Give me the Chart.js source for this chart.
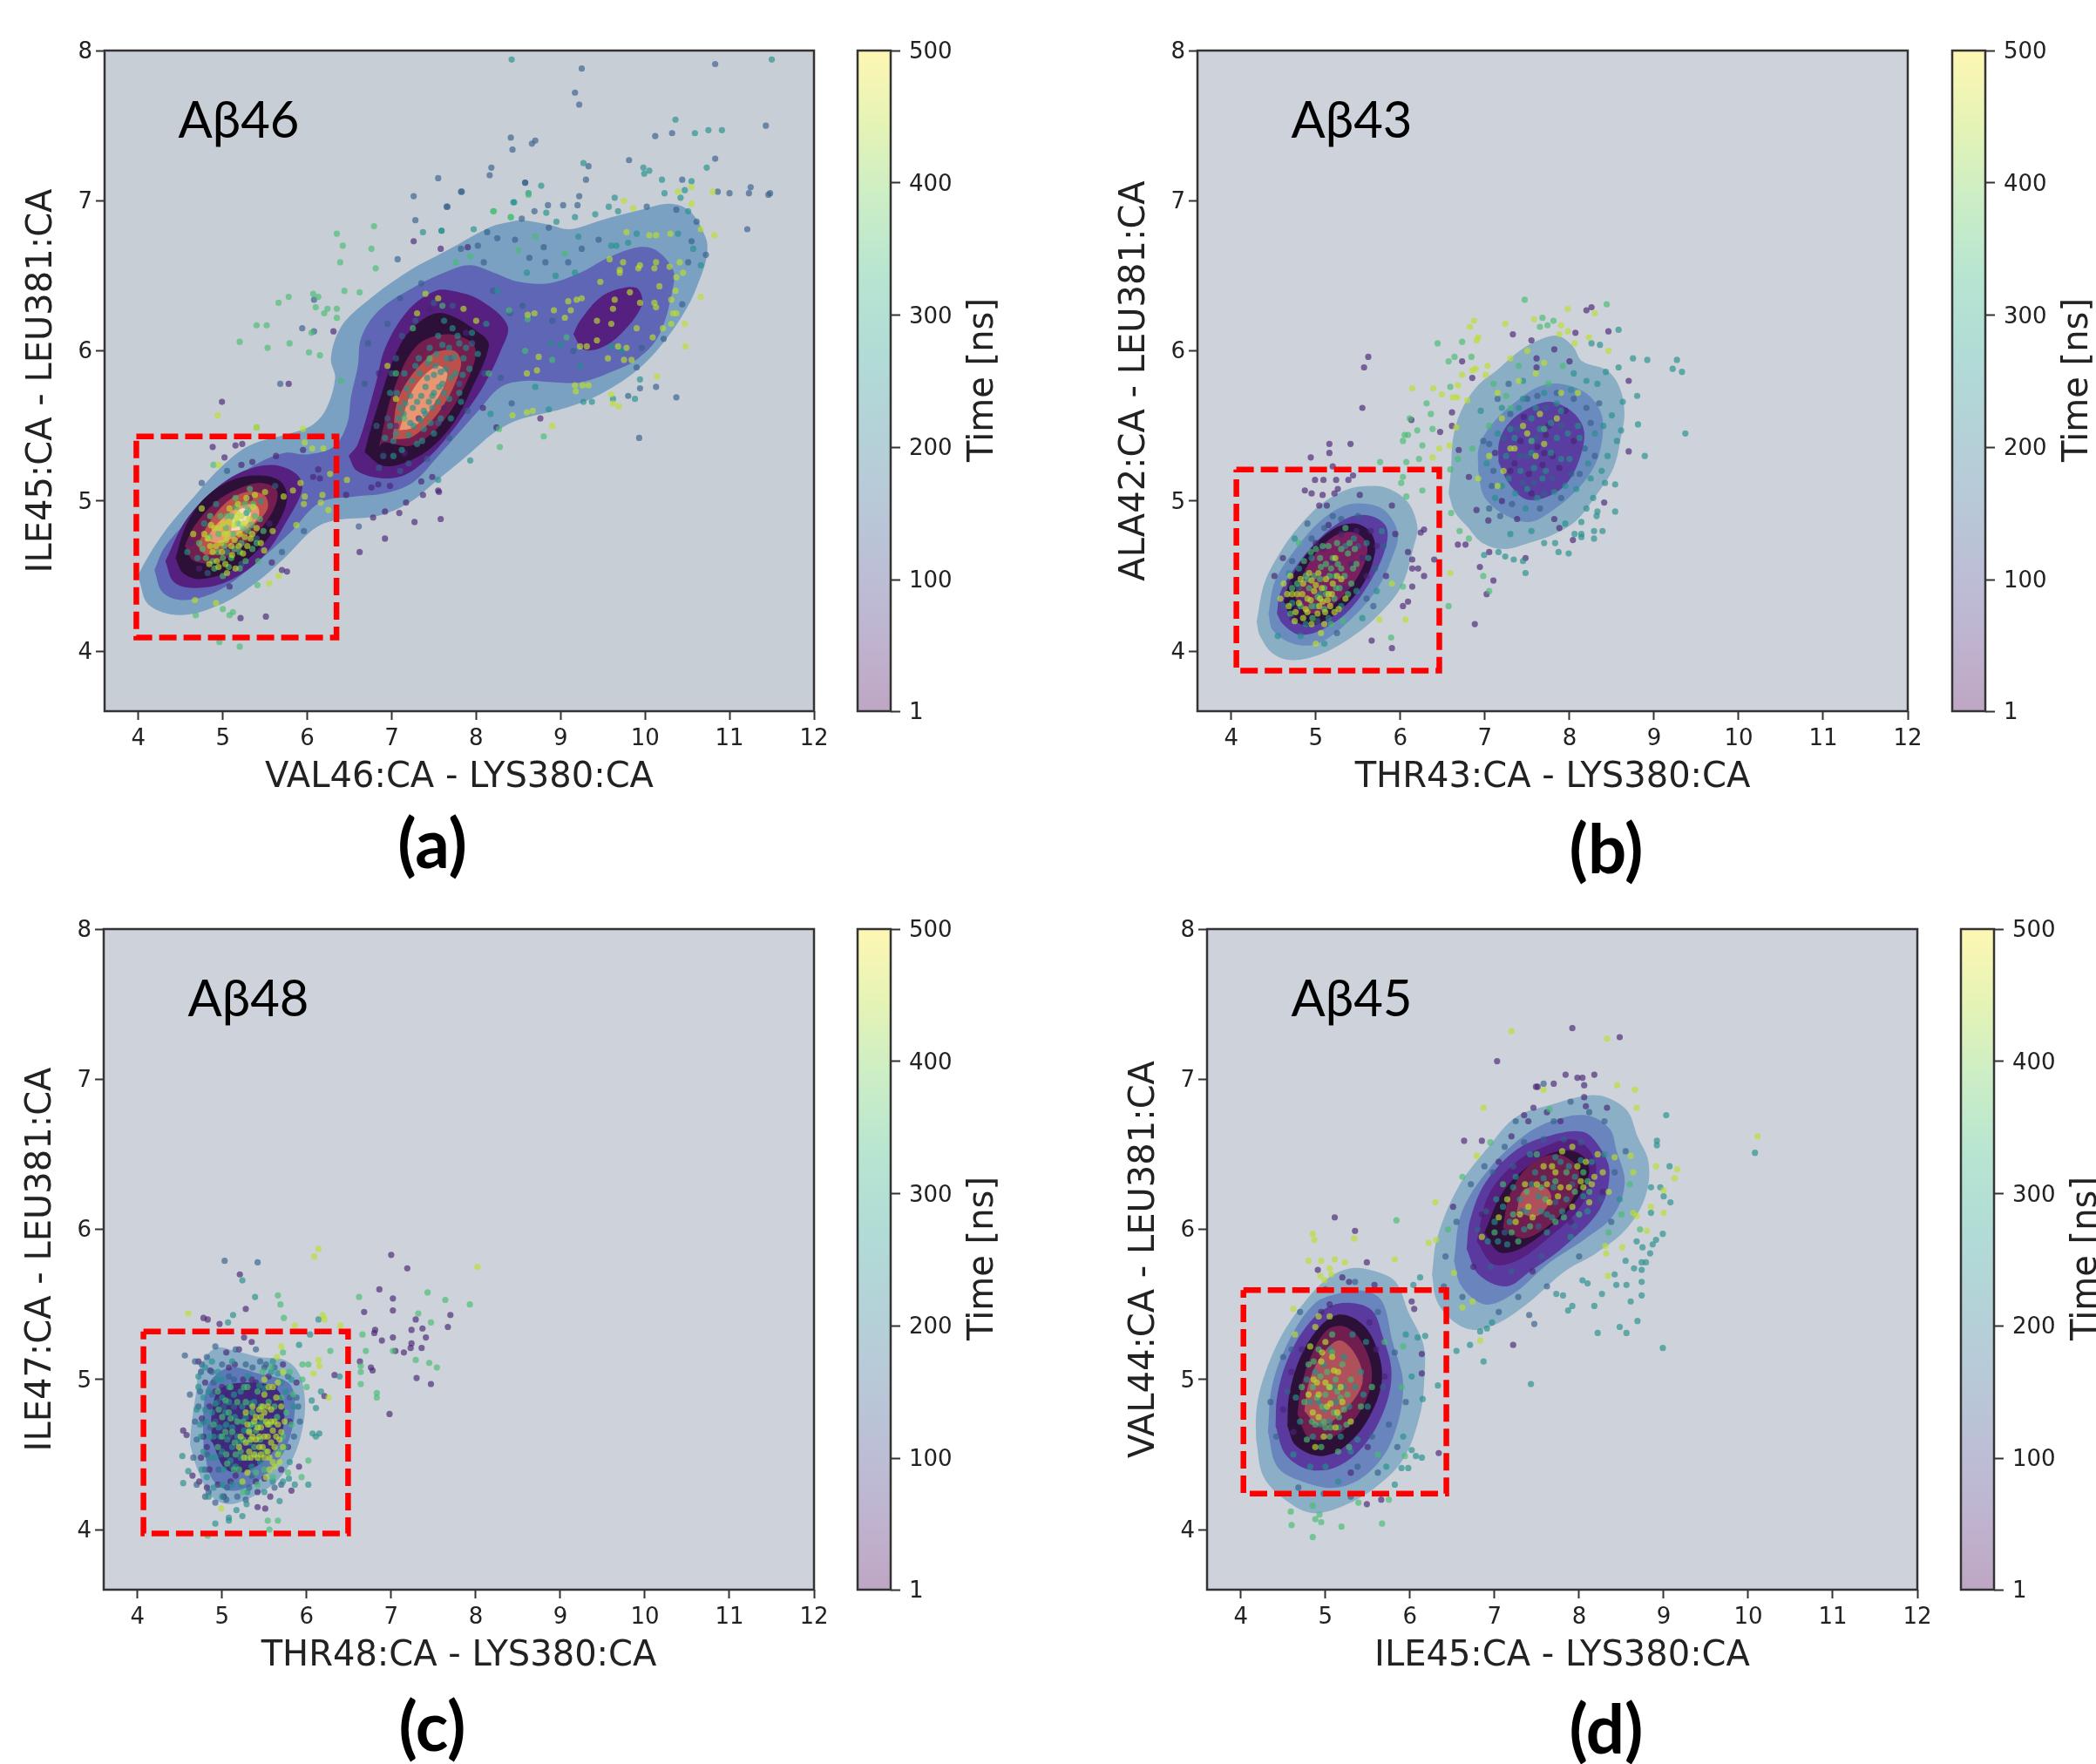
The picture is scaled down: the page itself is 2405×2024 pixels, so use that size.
<!DOCTYPE html>
<html>
<head>
<meta charset="utf-8">
<script src="https://cdn.jsdelivr.net/npm/chart.js@4"></script>
<style>
html, body { margin: 0; padding: 0; background: #fff; width: 2405px; height: 2024px; overflow: hidden; }
canvas { position: absolute; filter: blur(0.6px); }
.note { position: absolute; white-space: nowrap; color: #000; transform: translate(-50%, -50%); }
.tag { font: 58px Lato, sans-serif; }
.sub { font: bold 78px Lato, sans-serif; }
.cbtitle { font: 40px "DejaVu Sans", sans-serif; color: #222; transform: translate(-50%, -50%) rotate(-90deg); }
</style>
</head>
<body>
<script>
const xTicks = [4, 5, 6, 7, 8, 9, 10, 11, 12];
const yTicks = [4, 5, 6, 7, 8];
const cbarTicks = [1, 100, 200, 300, 400, 500];
const groupTimes = [50, 150, 250, 350, 450];

// viridis stops used for the time colouring
const viridis = [[68,1,84],[72,40,120],[62,74,137],[49,104,142],[38,130,142],[31,158,137],[53,183,121],[109,205,89],[180,222,44],[253,231,37]];

// ----- panel (a) -----
const a_box = [3.976, 6.346, 5.43, 4.09];
const a_fills = ['#7aa0c2', '#5e66b5', '#55207f', '#2d1038', '#741e50', '#bd504b', '#eb9673', '#f6dcc0'];
const a_contours = [
 [0, [[4.01,4.47],[4.12,4.31],[4.49,4.24],[4.97,4.31],[5.38,4.45],[5.73,4.62],[6.07,4.81],[6.31,4.87],[6.83,4.90],[7.21,4.99],[7.52,5.13],[7.93,5.32],[8.2,5.45],[8.45,5.53],[8.70,5.57],[9.06,5.62],[9.43,5.70],[9.88,5.86],[10.21,6.05],[10.50,6.29],[10.65,6.48],[10.73,6.63],[10.72,6.75],[10.53,6.93],[10.29,6.98],[9.96,6.94],[9.48,6.87],[9.11,6.81],[8.86,6.84],[8.54,6.87],[8.33,6.85],[8.15,6.82],[7.66,6.67],[7.17,6.52],[6.64,6.30],[6.39,6.15],[6.28,5.95],[6.33,5.82],[6.23,5.62],[6.07,5.51],[5.80,5.45],[5.32,5.37],[4.97,5.22],[4.63,5.01],[4.29,4.78],[4.01,4.52],[4.01,4.47]]],
 [1, [[4.19,4.54],[4.29,4.39],[4.56,4.34],[4.97,4.41],[5.42,4.60],[5.80,4.79],[6.15,4.99],[6.56,5.03],[6.90,5.05],[7.24,5.12],[7.55,5.30],[8.04,5.61],[8.29,5.76],[8.58,5.80],[8.94,5.79],[9.23,5.79],[9.60,5.86],[9.92,5.95],[10.17,6.11],[10.33,6.42],[10.33,6.54],[10.13,6.67],[9.92,6.69],[9.56,6.62],[9.23,6.52],[8.86,6.45],[8.50,6.46],[8.21,6.52],[7.93,6.57],[7.66,6.53],[7.25,6.42],[6.85,6.27],[6.64,6.09],[6.60,5.90],[6.52,5.70],[6.47,5.51],[6.31,5.36],[6.00,5.31],[5.73,5.32],[5.38,5.24],[4.97,5.08],[4.63,4.89],[4.32,4.70],[4.19,4.54]]],
 [2, [[4.32,4.60],[4.42,4.46],[4.66,4.42],[5.04,4.46],[5.46,4.62],[5.76,4.87],[5.94,5.08],[5.87,5.18],[5.59,5.24],[5.25,5.20],[4.91,5.08],[4.56,4.87],[4.32,4.60]]],
 [3, [[4.44,4.62],[4.53,4.52],[4.73,4.48],[5.11,4.54],[5.46,4.70],[5.69,4.89],[5.76,5.04],[5.66,5.14],[5.38,5.17],[5.07,5.13],[4.77,5.01],[4.56,4.83],[4.44,4.62]]],
 [4, [[4.55,4.70],[4.66,4.60],[4.97,4.60],[5.32,4.74],[5.59,4.93],[5.64,5.07],[5.46,5.12],[5.18,5.08],[4.91,4.99],[4.66,4.83],[4.55,4.70]]],
 [5, [[4.70,4.70],[4.81,4.64],[5.07,4.70],[5.35,4.83],[5.53,4.95],[5.49,5.04],[5.28,5.06],[5.04,4.99],[4.81,4.83],[4.70,4.70]]],
 [6, [[4.79,4.74],[4.97,4.72],[5.22,4.79],[5.42,4.89],[5.40,4.97],[5.22,4.97],[4.97,4.87],[4.79,4.74]]],
 [7, [[5.10,4.80],[5.25,4.82],[5.33,4.92],[5.22,4.95],[5.12,4.88],[5.10,4.80]]],
 [2, [[6.49,5.30],[6.59,5.20],[6.90,5.15],[7.18,5.18],[7.49,5.32],[7.72,5.47],[7.85,5.57],[8.08,5.76],[8.29,6.0],[8.37,6.17],[8.04,6.34],[7.72,6.40],[7.52,6.40],[7.21,6.28],[6.93,6.03],[6.81,5.78],[6.60,5.38],[6.49,5.30]]],
 [3, [[6.69,5.32],[6.87,5.24],[7.07,5.24],[7.41,5.33],[7.72,5.51],[7.94,5.74],[8.15,6.03],[8.06,6.11],[7.62,6.25],[7.37,6.21],[7.09,6.03],[6.85,5.66],[6.68,5.33],[6.69,5.32]]],
 [4, [[6.85,5.36],[6.90,5.39],[7.24,5.37],[7.58,5.51],[7.91,5.82],[7.98,6.03],[7.66,6.11],[7.29,6.03],[7.01,5.72],[6.85,5.36]]],
 [5, [[7.01,5.41],[7.25,5.43],[7.58,5.61],[7.82,5.90],[7.74,6.0],[7.46,5.97],[7.09,5.70],[7.01,5.41]]],
 [6, [[7.09,5.47],[7.25,5.49],[7.46,5.61],[7.66,5.84],[7.54,5.90],[7.25,5.74],[7.09,5.47]]],
 [2, [[9.15,6.11],[9.27,6.01],[9.48,6.02],[9.71,6.11],[9.96,6.30],[9.92,6.41],[9.75,6.42],[9.48,6.36],[9.23,6.20],[9.15,6.11]]]
];
const a_t50 = [[7.26,6.73],[7.58,6.68],[5.78,5.78],[4.99,5.66],[6.31,6.13],[7.90,6.69],[8.76,5.55],[8.24,5.49],[8.08,5.62],[7.58,4.88],[7.56,5.06],[4.88,5.36],[5.15,5.37],[5.23,5.38],[5.02,5.29],[5.22,5.24],[5.35,5.26],[5.63,5.30],[6.07,5.16],[6.15,5.15],[6.13,5.21],[5.95,5.34],[5.70,4.54],[5.76,4.53],[5.21,4.22],[5.51,4.23],[6.62,4.66],[6.92,4.75],[7.27,4.86],[6.78,4.89],[7.09,4.92],[6.92,4.93],[7.17,4.99],[7.55,5.07],[7.37,5.04],[7.48,5.16],[7.35,5.13],[6.76,5.09],[6.84,5.11],[6.98,5.10],[6.46,5.04],[5.58,4.59],[5.08,4.43],[4.62,4.72],[4.72,4.55],[5.32,5.02],[5.55,4.85],[6.72,5.48],[6.85,5.85],[7.05,5.50],[7.15,5.32],[7.32,5.55],[7.62,5.62],[7.88,6.12],[7.45,6.28]];
const a_t150 = [[8.43,7.34],[8.41,7.42],[8.66,7.38],[8.18,7.22],[8.16,7.17],[7.55,7.15],[7.82,7.06],[7.26,7.03],[7.65,6.96],[7.28,6.87],[7.07,6.61],[5.94,6.15],[6.08,6.34],[6.08,6.13],[5.68,5.78],[8.58,7.12],[9.25,7.88],[9.17,7.72],[9.22,7.64],[10.12,7.43],[10.32,7.45],[10.83,7.91],[11.43,7.50],[11.48,7.05],[11.23,7.05],[10.86,7.06],[9.33,7.23],[8.70,7.40],[7.83,7.06],[7.66,6.96],[8.58,7.12],[9.30,7.14],[9.81,7.27],[10.83,7.28],[10.44,7.14],[11.25,7.09],[11.46,7.04],[11.0,7.05],[11.21,6.81],[9.22,7.03],[8.85,6.97],[9.03,6.97],[9.20,6.97],[8.69,6.93],[8.54,6.88],[8.13,6.79],[8.25,6.75],[8.46,6.74],[8.86,6.82],[9.45,6.74],[9.25,6.68],[8.80,6.69],[8.63,6.62],[8.82,6.59],[9.09,6.59],[8.02,6.70],[8.09,6.59],[7.82,6.68],[10.02,6.96],[10.37,6.94],[10.61,6.86],[10.55,6.73],[10.72,6.64],[10.51,6.59],[10.44,6.31],[10.22,6.08],[9.96,6.02],[9.90,5.89],[10.37,5.69],[9.93,5.42],[9.80,5.70],[9.94,5.75],[10.13,5.76],[8.42,5.65],[8.29,5.82],[6.61,4.83],[5.96,4.80],[5.70,4.66],[7.35,6.45],[7.1,6.35],[6.95,6.18],[6.72,6.05],[6.68,5.78],[8.2,6.4],[8.4,6.25],[8.9,6.2],[9.15,6.0],[8.55,6.3],[4.75,5.12],[5.05,5.2],[5.62,5.1],[4.82,4.52],[5.22,4.58],[5.4,4.75],[6.95,5.55],[7.2,5.25],[7.55,5.52],[7.7,5.95],[7.8,5.78],[7.05,5.95],[6.9,5.3],[6.82,5.5],[7.0,5.85],[7.12,6.1],[7.28,6.2],[7.5,6.32],[7.72,6.3],[7.95,6.05],[8.1,5.85],[7.9,5.6],[7.68,5.42],[7.42,5.28],[7.1,5.2],[6.85,5.22]];
const a_t250 = [[8.42,7.94],[8.44,6.99],[7.37,6.79],[7.59,6.80],[11.50,7.94],[10.36,7.54],[10.59,7.45],[10.75,7.47],[10.91,7.47],[10.20,7.14],[9.27,7.25],[9.98,7.22],[10.05,7.20],[9.99,7.18],[10.73,7.22],[10.55,7.13],[10.47,7.07],[10.23,7.05],[10.42,7.02],[10.51,6.93],[9.64,7.02],[8.77,7.10],[8.62,7.05],[8.45,6.99],[8.83,6.92],[9.17,6.89],[9.41,6.91],[9.57,6.96],[9.68,6.93],[8.95,6.86],[7.59,6.80],[7.97,6.81],[9.21,6.76],[9.60,6.70],[9.66,6.70],[9.80,6.72],[9.90,6.78],[10.39,6.78],[10.57,6.68],[10.66,6.57],[9.17,6.52],[8.60,6.52],[8.94,6.50],[8.25,6.40],[9.0,6.04],[8.88,6.05],[8.70,5.76],[8.86,5.61],[9.27,5.66],[9.37,5.66],[9.62,5.68],[9.88,5.68],[9.94,5.81],[8.17,5.58],[7.93,5.27],[7.55,5.14],[9.23,5.90],[9.72,6.0],[9.60,6.03],[7.05,5.45],[7.1,5.62],[7.18,5.75],[7.22,5.52],[7.28,5.9],[7.3,5.38],[7.35,5.7],[7.4,5.58],[7.42,5.82],[7.45,6.02],[7.5,5.45],[7.5,5.72],[7.52,5.9],[7.55,6.1],[7.58,5.55],[7.6,5.78],[7.65,5.95],[7.68,5.68],[7.72,6.15],[7.75,5.85],[7.8,6.05],[7.85,5.95],[7.92,5.88],[7.95,6.12],[7.38,5.48],[7.48,5.62],[7.32,5.95],[7.15,5.85],[6.98,5.72],[6.92,5.42],[7.02,5.3],[7.25,5.62],[7.62,6.2],[7.7,5.55],[7.82,5.66],[8.02,5.98],[8.12,6.18],[4.78,4.85],[4.92,4.98],[5.05,4.66],[5.28,4.92],[5.45,5.0],[4.7,4.62],[4.58,4.66],[7.02,5.4],[7.08,5.55],[7.12,5.34],[7.16,5.65],[7.2,5.44],[7.24,5.8],[7.26,5.5],[7.3,5.66],[7.33,5.85],[7.36,5.4],[7.38,5.6],[7.4,5.76],[7.43,5.92],[7.46,5.52],[7.48,5.7],[7.5,5.84],[7.53,5.98],[7.55,5.66],[7.58,5.86],[7.6,6.04],[7.62,5.72],[7.64,5.88],[7.68,6.02],[7.7,5.82],[7.74,5.96],[7.78,6.1],[7.8,5.72],[7.84,5.84],[7.88,6.02],[6.98,5.5],[7.06,5.72],[7.14,5.58],[7.22,5.7],[7.34,5.54],[7.44,5.66],[7.56,5.76]];
const a_t350 = [[6.79,6.83],[6.35,6.78],[6.42,6.70],[6.76,6.68],[6.39,6.59],[6.81,6.55],[6.44,6.40],[6.62,6.39],[6.07,6.38],[6.13,6.36],[5.78,6.36],[5.66,6.32],[6.10,6.29],[6.24,6.28],[6.35,6.28],[6.20,6.25],[6.35,6.22],[5.52,6.17],[5.40,6.17],[6.05,6.12],[5.20,6.06],[5.79,6.05],[5.53,6.02],[6.02,5.99],[6.15,5.97],[6.40,5.80],[8.62,7.04],[8.21,6.93],[8.41,6.89],[8.20,6.93],[8.41,6.89],[8.70,6.76],[8.50,6.67],[9.05,6.65],[7.93,6.63],[7.76,6.59],[8.39,6.27],[8.61,6.21],[8.58,6.0],[9.07,6.09],[8.90,5.94],[8.80,5.43],[8.28,5.36],[8.27,5.48],[4.68,4.24],[4.96,4.06],[5.20,4.03],[5.0,4.28],[5.08,4.24],[5.12,4.26],[5.41,4.44],[5.40,5.49],[4.89,5.24],[4.72,4.72],[4.8,4.62],[4.9,4.55],[4.95,4.78],[5.02,4.7],[5.05,4.9],[5.1,4.62],[5.12,4.78],[5.18,4.85],[5.2,4.55],[5.22,4.72],[5.26,4.98],[5.3,4.8],[5.35,4.68],[5.38,4.9],[5.42,4.6],[4.85,4.9],[5.0,4.5],[5.15,5.02],[5.32,5.08],[7.15,5.55],[7.45,5.95],[7.6,6.3],[7.25,6.15],[8.15,5.85],[7.05,5.85],[4.76,4.68],[4.84,4.76],[4.88,4.6],[4.94,4.66],[4.97,4.9],[5.0,4.62],[5.04,4.82],[5.07,4.56],[5.1,4.9],[5.14,4.68],[5.16,4.96],[5.2,4.66],[5.24,4.82],[5.27,4.6],[5.3,4.94],[5.34,4.84],[5.36,4.98],[5.4,4.72],[5.44,4.88],[5.48,4.8]];
const a_t450 = [[4.94,5.57],[5.40,5.49],[10.39,7.06],[10.55,7.09],[10.80,7.06],[10.55,6.98],[9.75,7.0],[9.86,6.95],[10.82,6.77],[10.66,6.81],[9.78,6.79],[10.30,6.78],[10.05,6.77],[10.13,6.77],[10.66,6.36],[10.33,6.25],[10.47,6.18],[10.14,5.83],[9.60,5.71],[9.62,5.65],[9.69,5.63],[8.90,5.50],[10.48,6.03],[9.58,6.61],[9.74,6.59],[9.94,6.57],[10.11,6.55],[10.13,6.59],[9.92,6.55],[9.70,6.54],[9.70,6.52],[10.29,6.56],[10.41,6.59],[10.45,6.52],[10.37,6.49],[10.17,6.43],[10.11,6.32],[10.13,6.29],[10.36,6.40],[10.31,6.34],[10.37,6.25],[10.09,6.09],[10.21,6.15],[10.31,6.18],[9.47,6.46],[9.82,6.39],[9.62,6.28],[9.64,6.34],[9.94,6.32],[9.60,6.18],[9.43,6.20],[9.90,6.15],[9.78,6.02],[9.68,6.03],[9.43,6.07],[9.31,6.03],[9.23,6.03],[9.25,6.35],[9.19,6.34],[9.09,6.33],[8.92,6.27],[9.12,6.27],[9.05,6.22],[8.69,6.25],[8.61,6.24],[9.17,5.77],[9.26,5.77],[9.33,5.77],[9.18,5.73],[8.74,5.96],[8.72,5.87],[8.60,5.85],[8.60,5.59],[8.67,5.60],[8.43,5.57],[9.84,5.94],[9.75,5.94],[9.56,5.95],[4.92,4.32],[4.67,4.34],[5.55,4.45],[5.66,4.50],[5.95,5.48],[5.97,5.39],[6.06,5.35],[6.19,5.35],[4.95,5.24],[5.97,5.03],[6.18,5.04],[6.16,4.99],[6.25,4.94],[6.27,5.18],[6.47,5.14],[5.92,5.12],[5.83,5.07],[5.72,5.03],[5.96,4.98],[5.87,4.84],[5.59,4.80],[5.49,4.67],[4.65,4.78],[4.75,4.95],[4.82,4.75],[4.88,4.66],[4.9,4.82],[4.93,4.6],[4.98,4.72],[5.0,4.85],[5.03,4.58],[5.06,4.78],[5.08,4.95],[5.1,4.7],[5.13,4.84],[5.15,4.55],[5.17,4.92],[5.2,4.78],[5.24,4.65],[5.25,4.85],[5.28,5.02],[5.33,4.75],[5.36,4.96],[5.4,4.82],[5.45,4.72],[4.85,4.7],[5.02,4.78],[7.05,5.68],[7.3,6.25],[7.55,6.35],[7.85,6.28],[8.0,6.2],[7.4,6.38],[6.95,5.9],[4.78,4.78],[4.86,4.84],[4.92,4.7],[4.96,4.82],[4.99,4.66],[5.04,4.74],[5.07,4.86],[5.11,4.64],[5.14,4.74],[5.16,4.88],[5.19,4.7],[5.22,4.9],[5.26,4.76],[5.29,4.7],[5.31,4.88],[5.35,4.78],[4.95,4.56],[5.05,4.52],[4.84,4.58],[5.18,4.98],[5.38,5.04],[5.5,5.06]];

// ----- panel (b) -----
const b_box = [4.06, 6.46, 5.21, 3.87];
const b_fills = ['#8aaec4', '#6a8bbe', '#5a3da0', '#2d1040', '#7a2060', '#b05060', '#d08080', '#eee'];
const b_contours = [
 [0, [[4.30,4.195],[4.34,4.10],[4.50,3.98],[4.73,3.94],[5.06,3.98],[5.39,4.08],[5.72,4.23],[6.01,4.43],[6.16,4.70],[6.20,4.83],[6.09,4.99],[5.87,5.08],[5.65,5.10],[5.39,5.08],[5.09,4.99],[4.80,4.83],[4.58,4.66],[4.39,4.45],[4.30,4.195]]],
 [1, [[4.44,4.25],[4.49,4.14],[4.73,4.05],[5.02,4.05],[5.39,4.20],[5.72,4.41],[5.90,4.62],[5.97,4.78],[5.83,4.93],[5.61,4.98],[5.35,4.97],[5.06,4.87],[4.76,4.68],[4.52,4.47],[4.44,4.25]]],
 [2, [[4.54,4.25],[4.61,4.18],[4.80,4.11],[5.06,4.14],[5.39,4.27],[5.68,4.50],[5.83,4.70],[5.83,4.83],[5.65,4.90],[5.39,4.89],[5.06,4.76],[4.76,4.56],[4.58,4.39],[4.54,4.25]]],
 [3, [[4.62,4.33],[4.73,4.21],[4.95,4.17],[5.24,4.25],[5.54,4.43],[5.70,4.66],[5.65,4.79],[5.46,4.85],[5.20,4.81],[4.91,4.66],[4.71,4.49],[4.62,4.33]]],
 [4, [[4.76,4.35],[4.91,4.25],[5.20,4.31],[5.50,4.50],[5.61,4.70],[5.46,4.79],[5.20,4.76],[4.91,4.58],[4.76,4.35]]],
 [0, [[6.57,5.05],[6.64,4.93],[6.79,4.83],[6.97,4.72],[7.23,4.68],[7.52,4.72],[7.82,4.78],[8.08,4.87],[8.33,5.05],[8.52,5.22],[8.61,5.43],[8.65,5.59],[8.59,5.76],[8.44,5.87],[8.15,5.93],[8.04,6.03],[7.86,6.10],[7.63,6.07],[7.41,6.00],[7.16,5.88],[6.90,5.76],[6.71,5.59],[6.62,5.41],[6.60,5.22],[6.57,5.05]]],
 [1, [[6.92,5.20],[6.99,5.03],[7.23,4.91],[7.52,4.86],[7.78,4.93],[8.08,5.07],[8.30,5.24],[8.39,5.43],[8.37,5.59],[8.19,5.72],[7.89,5.78],[7.63,5.76],[7.34,5.65],[7.08,5.51],[6.93,5.36],[6.92,5.20]]],
 [2, [[7.16,5.26],[7.28,5.12],[7.49,5.01],[7.74,5.03],[7.97,5.12],[8.13,5.30],[8.17,5.47],[8.04,5.59],[7.78,5.66],[7.56,5.63],[7.30,5.53],[7.17,5.40],[7.16,5.26]]],
 [2, [[7.49,5.28],[7.60,5.21],[7.74,5.26],[7.86,5.38],[7.74,5.44],[7.60,5.37],[7.49,5.28]]]
];
const b_t50 = [[5.62,5.96],[5.57,5.89],[5.55,5.62],[5.16,5.38],[5.41,5.38],[5.16,5.32],[4.94,5.29],[5.20,5.23],[5.44,5.17],[4.99,5.14],[5.09,5.14],[5.24,5.14],[5.385,5.14],[5.26,5.08],[4.87,5.07],[4.95,5.05],[5.08,5.04],[5.52,5.04],[5.22,5.05],[5.04,4.97],[5.13,4.97],[5.90,4.97],[6.24,4.79],[6.28,4.81],[5.94,4.78],[6.09,4.66],[6.14,4.61],[6.40,4.61],[6.14,4.55],[6.21,4.55],[6.28,4.50],[5.83,4.50],[6.14,4.43],[6.09,4.33],[6.03,4.30],[5.66,4.07],[5.90,4.02],[4.51,4.50],[4.61,4.62],[6.88,4.18],[7.02,4.38],[7.10,4.47],[6.94,4.56],[7.48,4.62],[7.05,4.66],[6.68,4.71],[6.77,4.71],[8.04,4.74],[8.41,4.99],[8.70,5.33],[8.70,5.80],[8.46,6.13],[8.07,6.12],[8.20,6.27],[8.26,6.29],[7.33,6.11],[7.55,6.07],[6.73,5.93],[6.85,5.82],[7.61,5.95],[7.61,5.89],[7.82,6.01],[8.0,5.93],[6.13,5.54],[6.47,5.46],[6.61,5.59],[6.61,5.50],[6.69,5.34],[6.81,5.16],[6.90,4.94],[7.04,4.87],[7.82,4.88],[7.88,4.82],[7.38,4.88],[7.35,5.25],[7.55,5.05],[7.7,5.32],[7.75,5.5],[8.05,5.4],[7.2,5.0],[7.95,5.6],[4.72,4.22],[5.0,4.72],[5.35,4.42],[5.55,4.62],[4.85,4.35],[5.2,4.6],[5.65,4.8],[4.68,4.45],[7.42,5.4],[7.52,5.18],[7.62,5.36],[7.68,5.24],[7.72,5.44],[7.8,5.3],[7.88,5.22],[7.46,5.56],[7.3,5.2],[7.12,5.32],[4.78,4.28],[4.9,4.52],[5.08,4.68],[5.42,4.58],[5.6,4.5],[5.72,4.7],[5.48,4.8],[5.3,4.78],[4.66,4.38],[5.15,4.84]];
const b_t150 = [[7.38,5.48],[7.45,5.12],[7.6,5.42],[7.62,5.7],[7.8,5.15],[7.9,5.5],[8.12,5.18],[8.2,5.62],[7.28,5.78],[7.1,5.2],[7.05,4.95],[7.65,4.95],[8.3,5.3],[8.35,5.65],[7.5,5.3],[7.72,5.62],[7.15,5.68],[6.98,5.4],[4.72,4.6],[4.9,4.85],[5.1,4.82],[5.3,4.88],[5.5,4.9],[5.02,4.2],[5.25,4.12],[5.68,4.3],[4.62,4.3],[5.7,4.55],[5.8,4.7],[5.6,4.35],[7.08,5.1],[7.18,4.9],[7.32,4.98],[7.42,5.3],[7.58,5.12],[7.7,5.05],[7.9,5.02],[8.02,5.18],[8.18,5.35],[8.25,5.52],[8.05,5.68],[7.85,5.72],[7.5,5.68],[7.3,5.58],[7.22,5.42],[7.05,5.38],[4.8,4.42],[4.95,4.75],[5.2,4.9],[5.5,4.7]];
const b_t250 = [[9.27,5.94],[9.22,5.88],[9.33,5.86],[8.92,5.94],[8.75,5.95],[8.58,5.89],[8.58,6.14],[8.26,6.05],[8.36,6.04],[9.37,5.45],[8.89,5.30],[8.81,5.51],[8.80,5.70],[8.61,5.47],[8.56,5.40],[8.54,5.11],[8.54,4.93],[8.39,4.80],[8.29,4.80],[8.29,4.75],[8.14,4.78],[8.14,4.76],[8.06,4.78],[7.99,4.65],[7.87,4.66],[7.83,4.72],[7.48,4.52],[7.45,4.60],[7.34,4.61],[7.24,4.63],[7.16,4.66],[6.99,4.64],[8.33,4.93],[8.32,4.90],[8.14,4.86],[8.63,5.66],[8.50,5.57],[8.33,5.78],[8.43,5.86],[7.3,4.78],[7.55,4.8],[7.7,4.72],[7.95,4.85],[8.2,4.95],[8.42,5.12],[8.25,5.15],[8.3,5.45],[8.45,5.3],[8.2,5.8],[8.05,5.85],[7.85,5.65],[7.55,5.55],[7.45,5.68],[7.35,5.42],[7.25,5.3],[7.15,5.45],[7.68,5.15],[7.78,5.32],[7.58,5.22],[7.85,5.42],[8.0,5.28],[8.1,5.5],[7.95,5.1],[7.48,4.95],[7.2,5.1],[6.95,5.6],[4.68,4.52],[4.75,4.75],[4.82,4.1],[5.1,4.05],[5.3,4.3],[5.45,4.75],[5.6,4.72],[5.0,4.3],[4.55,4.1],[5.15,4.22],[4.95,4.62],[5.55,4.22],[7.02,5.25],[7.12,5.02],[7.28,5.15],[7.36,5.05],[7.42,5.2],[7.5,5.08],[7.55,5.32],[7.62,5.02],[7.65,5.48],[7.72,5.2],[7.78,5.52],[7.82,5.06],[7.9,5.28],[7.98,5.45],[8.08,5.08],[8.12,5.42],[8.22,5.25],[8.28,5.02],[8.38,5.2],[8.4,5.5],[7.3,5.48],[7.4,5.62],[7.6,5.62],[7.9,5.6],[8.02,5.74],[7.7,5.72],[7.45,5.8],[7.2,5.62],[4.72,4.32],[4.8,4.55],[4.88,4.18],[5.05,4.38],[5.22,4.5],[5.35,4.7],[5.48,4.4],[5.62,4.62],[5.72,4.4],[5.78,4.8]];
const b_t350 = [[7.47,6.34],[8.44,6.31],[7.68,6.22],[7.81,6.20],[7.65,6.16],[7.74,6.17],[6.44,6.05],[6.73,6.06],[6.57,5.93],[6.64,5.96],[6.84,5.96],[6.59,5.76],[6.31,5.65],[6.36,5.58],[6.11,5.55],[6.20,5.47],[6.09,5.44],[6.05,5.44],[6.03,5.40],[6.38,5.48],[6.26,5.37],[6.22,5.28],[6.07,5.26],[5.76,5.26],[6.68,5.28],[6.59,5.21],[6.03,5.16],[6.01,5.12],[6.26,5.07],[6.07,5.03],[6.60,4.92],[6.70,4.80],[6.81,4.75],[6.98,4.50],[7.05,4.40],[6.57,4.30],[5.89,4.09],[6.03,4.43],[7.05,5.5],[7.25,5.7],[7.4,5.9],[7.1,5.78],[6.85,5.35],[7.55,5.4],[7.75,5.78],[7.92,5.9],[7.7,5.48],[7.3,5.62],[4.8,4.72],[4.88,4.5],[4.95,4.3],[5.05,4.62],[5.1,4.42],[5.15,4.7],[5.18,4.55],[5.22,4.35],[5.25,4.72],[5.3,4.55],[5.32,4.2],[5.38,4.65],[5.42,4.45],[5.48,4.58],[5.05,4.48],[4.92,4.42],[5.12,4.58],[4.78,4.45],[5.28,4.42],[5.35,4.82],[5.0,4.68],[4.82,4.3],[4.86,4.6],[4.9,4.48],[4.94,4.66],[4.98,4.5],[5.02,4.36],[5.06,4.56],[5.08,4.7],[5.12,4.38],[5.16,4.5],[5.2,4.62],[5.24,4.42],[5.26,4.58],[5.3,4.68],[5.34,4.5],[5.38,4.38],[5.4,4.72],[5.44,4.55],[5.46,4.68],[5.1,4.28],[5.18,4.18],[4.96,4.22],[4.72,4.42],[4.7,4.25]];
const b_t450 = [[7.98,6.28],[8.30,6.25],[7.58,6.21],[7.90,6.17],[6.87,6.20],[6.82,6.16],[7.24,6.18],[7.98,6.13],[7.88,6.11],[8.23,6.09],[6.92,6.09],[6.90,6.07],[8.06,6.05],[8.46,6.0],[7.03,5.90],[6.89,5.88],[6.85,5.87],[6.73,5.84],[7.01,5.84],[6.68,5.77],[6.39,5.75],[6.14,5.75],[6.49,5.71],[6.67,5.69],[6.62,5.69],[6.79,5.67],[6.66,5.49],[6.46,5.35],[6.58,5.37],[6.38,5.29],[6.59,4.52],[6.06,4.21],[5.75,4.21],[5.90,4.45],[7.15,5.72],[7.4,5.8],[7.6,5.85],[7.3,5.95],[7.5,6.0],[7.7,5.92],[7.2,5.55],[7.45,5.5],[7.65,5.58],[7.05,5.3],[7.6,5.3],[7.9,5.72],[8.1,5.72],[7.15,5.1],[6.92,5.15],[4.58,4.35],[4.68,4.3],[4.72,4.38],[4.75,4.2],[4.8,4.32],[4.85,4.22],[4.9,4.35],[4.92,4.52],[4.95,4.18],[4.98,4.4],[5.02,4.25],[5.03,4.52],[5.08,4.33],[5.1,4.18],[5.12,4.48],[5.17,4.3],[5.2,4.45],[5.23,4.62],[5.27,4.28],[5.3,4.48],[5.35,4.35],[4.62,4.45],[4.7,4.5],[4.85,4.45],[5.05,4.35],[5.15,4.38],[4.88,4.28],[4.95,4.47],[5.0,4.05],[5.06,4.12],[4.76,4.26],[4.84,4.38],[4.9,4.26],[4.94,4.34],[5.0,4.44],[5.04,4.3],[5.07,4.42],[5.11,4.26],[5.14,4.34],[5.19,4.38],[5.22,4.26],[5.25,4.5],[4.82,4.48],[4.78,4.38],[4.66,4.38],[7.35,5.35],[7.5,5.45],[7.7,5.38],[7.85,5.55],[7.3,5.35],[7.22,5.2]];

// ----- panel (c) -----
const c_box = [4.07, 6.49, 5.32, 3.975];
const c_fills = ['#8aaec8', '#5f78b8', '#3f2a80', '#2d1048', '#6a1f60', '#a04060', '#c06060', '#eee'];
const c_contours = [
 [0, [[4.62,4.57],[4.71,4.40],[4.88,4.22],[5.09,4.17],[5.36,4.22],[5.64,4.32],[5.84,4.48],[5.95,4.67],[5.98,4.86],[5.91,5.04],[5.74,5.13],[5.43,5.15],[5.16,5.19],[4.92,5.21],[4.74,5.08],[4.69,4.90],[4.64,4.71],[4.62,4.57]]],
 [1, [[4.78,4.55],[4.88,4.34],[5.09,4.26],[5.36,4.30],[5.64,4.44],[5.81,4.63],[5.86,4.86],[5.78,4.98],[5.43,5.04],[5.09,5.08],[4.85,4.98],[4.78,4.79],[4.78,4.55]]],
 [2, [[4.88,4.59],[5.05,4.40],[5.33,4.40],[5.64,4.55],[5.74,4.79],[5.64,4.94],[5.33,4.98],[4.98,4.94],[4.88,4.79],[4.88,4.59]]]
];
const c_t50 = [[7.0,5.83],[7.19,5.74],[6.86,5.60],[7.02,5.54],[6.68,5.45],[7.02,5.46],[7.70,5.43],[7.29,5.40],[7.67,5.35],[7.37,5.34],[7.24,5.33],[6.81,5.33],[6.80,5.31],[6.89,5.26],[7.02,5.28],[7.41,5.28],[7.24,5.24],[7.23,5.21],[7.36,5.21],[7.05,5.19],[7.15,5.18],[6.63,5.12],[6.76,5.08],[6.78,5.06],[7.30,5.01],[7.47,4.97],[6.98,4.77],[6.33,5.03],[6.21,4.89],[5.21,5.70],[5.28,5.47],[4.78,5.41],[4.83,5.40],[4.97,5.37],[5.91,4.42],[5.82,4.26],[5.42,4.15],[5.51,4.14],[5.57,4.22],[4.65,4.36],[4.73,4.32],[4.54,4.66],[4.58,4.63],[5.26,5.28],[5.35,5.25],[5.15,5.1],[5.05,5.18],[5.2,5.2],[4.72,5.12],[4.8,4.98],[4.85,4.82],[4.9,4.6],[5.0,4.95],[5.1,4.85],[5.18,4.95],[5.25,5.0],[4.78,4.62],[4.75,4.48],[4.85,4.4],[4.95,4.3],[5.1,4.32],[5.25,4.4],[5.4,4.32],[5.3,4.9],[5.35,5.0],[5.55,5.02],[5.8,4.72],[5.78,4.55],[5.88,4.98],[5.72,5.1],[4.76,4.74],[4.82,4.55],[4.86,5.06],[4.92,4.92],[4.96,4.74],[5.02,4.58],[5.06,4.9],[5.12,4.72],[5.16,4.36],[5.22,4.82],[5.32,4.92],[5.4,4.98],[5.45,4.88],[5.62,4.95],[5.7,4.4],[5.5,4.34],[5.42,4.25],[4.82,4.28],[5.02,4.22],[5.08,5.08]];
const c_t150 = [[5.03,5.79],[5.42,5.78],[4.56,5.16],[4.68,5.12],[4.62,4.9],[4.75,5.05],[4.82,5.15],[4.92,5.22],[5.0,5.1],[5.08,5.02],[5.16,5.2],[4.68,4.72],[4.72,4.82],[4.78,4.72],[4.82,4.5],[4.88,4.9],[4.92,4.72],[4.98,4.5],[5.02,4.82],[5.08,4.62],[5.12,4.42],[5.2,4.72],[4.7,4.3],[4.8,4.22],[4.92,4.18],[5.05,4.2],[5.18,4.22],[5.28,4.2],[5.4,5.2],[5.45,5.12],[5.62,5.08],[5.88,4.88],[5.92,4.72],[5.85,4.62],[5.7,4.3],[4.88,5.05],[4.95,4.85],[5.32,4.28],[4.74,4.92],[4.7,4.6],[4.8,4.4],[4.86,4.68],[4.9,4.98],[4.96,4.4],[5.02,4.68],[5.06,4.28],[5.14,4.82],[5.14,5.0],[5.28,5.1],[5.36,5.08],[5.52,5.1],[5.78,5.02],[5.8,4.88],[5.9,4.82],[5.62,4.28],[4.66,4.48],[4.76,5.1],[4.84,4.25],[5.35,4.36],[5.5,5.08]];
const c_t250 = [[5.39,5.55],[5.24,5.66],[5.13,5.43],[5.07,5.38],[6.14,5.40],[6.04,5.30],[5.91,5.23],[6.39,5.02],[6.17,4.92],[6.06,4.86],[6.11,4.81],[6.07,4.64],[6.11,4.62],[6.15,4.64],[4.53,4.49],[4.60,4.39],[4.54,4.31],[5.79,4.34],[5.86,4.30],[6.02,4.30],[5.68,4.19],[5.24,4.09],[5.08,4.08],[5.08,4.06],[4.92,4.04],[5.17,4.13],[5.29,4.17],[4.72,5.02],[4.8,5.08],[4.78,4.88],[4.88,5.12],[4.95,5.05],[5.0,4.88],[5.05,4.7],[4.75,4.62],[4.85,4.62],[4.92,4.48],[4.98,4.62],[5.02,4.4],[5.08,4.85],[5.12,4.55],[5.15,4.75],[5.18,4.62],[5.22,4.92],[5.22,4.48],[5.28,4.75],[5.32,4.58],[5.35,4.42],[5.38,4.85],[5.42,4.7],[4.82,4.35],[4.9,4.28],[5.0,4.3],[5.12,4.3],[5.22,4.3],[5.3,4.25],[4.88,4.78],[4.8,4.8],[5.0,5.0],[5.12,5.12],[4.72,4.95],[5.45,4.45],[5.5,4.25],[5.85,4.82],[5.82,5.0],[5.7,4.98],[5.8,4.45],[5.6,5.12],[5.75,4.92],[4.7,4.8],[4.74,4.7],[4.78,4.52],[4.82,4.72],[4.84,4.92],[4.86,4.48],[4.9,4.62],[4.92,4.84],[4.94,5.0],[4.96,4.68],[5.0,4.52],[5.04,4.78],[5.06,4.6],[5.08,4.95],[5.1,4.46],[5.12,4.68],[5.14,4.9],[5.16,4.42],[5.2,4.58],[5.24,4.82],[5.26,4.66],[5.3,5.02],[5.34,4.84],[5.36,4.7],[5.4,4.5],[5.44,4.96],[5.48,4.72],[5.5,4.94],[5.58,5.05],[5.66,5.04],[5.75,4.55],[5.72,4.32],[5.6,4.32],[4.84,4.22],[5.0,4.22],[4.76,4.4]];
const c_t350 = [[7.43,5.58],[7.64,5.53],[7.93,5.50],[6.62,5.55],[5.66,5.56],[5.69,5.50],[7.32,5.44],[7.47,5.38],[5.73,5.41],[6.66,5.30],[6.70,5.19],[7.02,5.19],[7.29,5.13],[7.45,5.11],[7.54,5.08],[6.64,5.09],[6.64,5.05],[6.64,4.97],[6.83,4.91],[6.83,4.88],[6.28,5.19],[6.02,4.46],[5.94,4.35],[5.54,4.06],[5.66,4.06],[5.56,4.0],[4.83,3.96],[5.95,5.0],[6.0,4.95],[6.02,5.1],[5.95,5.1],[5.72,5.18],[4.9,4.7],[4.95,4.55],[5.0,4.75],[5.05,4.5],[5.08,4.78],[5.12,4.65],[5.16,4.5],[5.18,4.85],[5.2,4.4],[5.25,4.6],[5.28,4.85],[5.3,4.48],[5.34,4.7],[5.38,4.55],[5.42,4.92],[5.45,4.6],[5.5,4.4],[5.55,4.85],[5.6,4.35],[5.65,4.75],[5.7,4.88],[5.72,4.62],[5.78,4.38],[5.0,4.62],[5.1,4.95],[4.95,4.92],[5.15,4.58],[5.25,4.72],[5.4,4.38],[5.48,5.05],[5.58,5.08],[5.8,5.05],[5.04,4.86],[5.06,4.44],[5.1,4.74],[5.14,4.4],[5.18,4.72],[5.22,4.52],[5.26,4.95],[5.32,4.66],[5.36,4.78],[5.4,4.66],[5.46,4.82],[5.52,4.52],[5.56,4.7],[5.62,4.82],[5.68,4.52],[5.76,4.78],[5.82,4.7],[5.84,4.9],[5.04,4.65],[4.96,4.8],[5.3,4.95],[5.42,4.3],[5.25,4.25]];
const c_t450 = [[6.14,5.87],[6.09,5.82],[8.02,5.75],[4.60,5.44],[6.19,5.43],[6.21,5.40],[5.86,5.36],[6.40,5.36],[6.14,5.13],[6.15,5.09],[6.08,5.04],[6.26,4.88],[4.99,4.14],[5.7,5.22],[5.65,5.15],[5.55,4.95],[5.32,4.65],[5.36,4.82],[5.38,4.72],[5.4,4.6],[5.42,4.48],[5.44,4.8],[5.46,4.68],[5.48,4.55],[5.5,4.9],[5.52,4.72],[5.54,4.62],[5.56,4.48],[5.58,4.8],[5.6,4.66],[5.62,4.55],[5.64,4.88],[5.66,4.7],[5.68,4.45],[5.7,4.82],[5.72,4.55],[5.74,4.72],[5.5,4.78],[5.46,4.5],[5.56,4.4],[5.62,4.42],[5.52,4.35],[5.58,4.58],[5.44,4.62],[5.34,4.48],[5.4,4.75],[5.28,4.58],[5.6,4.95],[5.66,4.98],[5.72,5.05],[5.5,5.0],[5.3,4.38],[5.2,4.55],[5.24,4.32],[5.54,4.7],[5.48,4.82],[5.68,4.6],[5.34,4.6],[5.38,4.5],[5.42,4.68],[5.44,4.55],[5.46,4.75],[5.5,4.62],[5.5,4.48],[5.54,4.82],[5.54,4.52],[5.58,4.72],[5.6,4.45],[5.62,4.72],[5.64,4.62],[5.66,4.5],[5.7,4.65],[5.3,4.7],[5.32,4.52],[5.36,4.62],[5.26,4.48],[5.22,4.62],[5.28,4.78]];

// ----- panel (d) -----
const d_box = [4.03, 6.43, 5.596, 4.24];
const d_fills = ['#8bafc6', '#6a85bd', '#5b3aa0', '#55207f', '#2d1038', '#701e50', '#b0505a', '#eee'];
const d_contours = [
 [0, [[4.18,4.60],[4.27,4.35],[4.57,4.18],[4.86,4.11],[5.22,4.16],[5.59,4.28],[5.92,4.47],[6.12,4.77],[6.17,5.01],[6.16,5.23],[5.98,5.45],[5.83,5.65],[5.59,5.72],[5.30,5.74],[5.02,5.67],[4.73,5.50],[4.45,5.26],[4.24,4.96],[4.18,4.77],[4.18,4.60]]],
 [1, [[4.32,4.65],[4.43,4.42],[4.73,4.32],[5.14,4.28],[5.51,4.38],[5.79,4.60],[5.92,4.96],[5.79,5.26],[5.67,5.52],[5.47,5.59],[5.14,5.57],[4.86,5.50],[4.57,5.26],[4.37,4.96],[4.32,4.65]]],
 [2, [[4.41,4.69],[4.53,4.50],[4.81,4.40],[5.14,4.42],[5.47,4.57],[5.71,4.82],[5.78,5.06],[5.67,5.30],[5.55,5.46],[5.30,5.51],[5.02,5.48],[4.77,5.35],[4.55,5.13],[4.43,4.89],[4.41,4.69]]],
 [4, [[4.55,4.69],[4.65,4.56],[4.94,4.49],[5.22,4.55],[5.51,4.74],[5.67,5.01],[5.57,5.26],[5.39,5.39],[5.14,5.43],[4.90,5.33],[4.69,5.13],[4.57,4.89],[4.55,4.69]]],
 [5, [[4.67,4.77],[4.81,4.61],[5.10,4.62],[5.39,4.77],[5.55,5.01],[5.45,5.23],[5.24,5.35],[5.02,5.33],[4.81,5.13],[4.70,4.91],[4.67,4.77]]],
 [6, [[4.75,4.79],[4.94,4.69],[5.18,4.77],[5.43,4.96],[5.39,5.13],[5.18,5.26],[4.98,5.18],[4.81,4.99],[4.75,4.79]]],
 [0, [[6.26,5.70],[6.32,5.52],[6.53,5.38],[6.77,5.33],[7.06,5.38],[7.42,5.52],[7.83,5.72],[8.20,5.84],[8.57,6.01],[8.79,6.23],[8.82,6.45],[8.69,6.62],[8.57,6.79],[8.32,6.88],[8.08,6.89],[7.67,6.83],[7.26,6.75],[6.93,6.55],[6.57,6.28],[6.32,5.94],[6.26,5.70]]],
 [1, [[6.52,5.79],[6.61,5.62],[6.89,5.50],[7.22,5.57],[7.63,5.77],[8.08,5.94],[8.40,6.09],[8.54,6.31],[8.44,6.53],[8.36,6.67],[8.08,6.76],[7.67,6.72],[7.34,6.62],[6.93,6.40],[6.61,6.11],[6.52,5.79]]],
 [2, [[6.67,5.87],[6.81,5.70],[7.14,5.62],[7.42,5.72],[7.83,5.89],[8.24,6.13],[8.36,6.38],[8.24,6.55],[8.04,6.65],[7.63,6.62],[7.26,6.53],[6.89,6.31],[6.71,6.06],[6.67,5.87]]],
 [3, [[6.79,5.92],[6.98,5.77],[7.26,5.79],[7.63,5.94],[7.99,6.13],[8.20,6.38],[8.12,6.53],[7.91,6.60],[7.59,6.55],[7.26,6.45],[6.93,6.23],[6.79,5.92]]],
 [4, [[6.88,5.98],[7.05,5.85],[7.3,5.87],[7.63,6.0],[7.95,6.18],[8.12,6.38],[8.02,6.5],[7.75,6.52],[7.42,6.43],[7.1,6.25],[6.88,5.98]]],
 [5, [[7.10,6.01],[7.34,5.94],[7.67,6.04],[7.95,6.23],[7.99,6.40],[7.75,6.50],[7.42,6.43],[7.18,6.23],[7.10,6.01]]],
 [6, [[7.26,6.11],[7.51,6.09],[7.67,6.21],[7.59,6.28],[7.34,6.26],[7.26,6.11]]]
];
const d_t50 = [[7.92,7.34],[8.48,7.28],[7.03,7.12],[7.84,7.03],[7.98,7.01],[8.04,7.01],[8.18,7.03],[7.70,6.97],[7.49,6.95],[7.51,6.95],[8.06,6.96],[8.06,6.88],[8.08,6.82],[7.46,6.81],[8.33,6.81],[7.35,6.76],[6.64,6.59],[6.85,6.59],[6.51,6.15],[5.11,6.08],[5.35,5.99],[5.49,5.78],[4.91,5.73],[5.58,5.63],[6.02,5.52],[6.05,5.47],[7.22,5.23],[6.34,4.51],[6.14,5.04],[6.14,5.17],[5.66,4.20],[5.49,4.17],[5.2,5.68],[5.28,5.65],[5.05,5.5],[4.72,5.2],[4.6,5.05],[4.5,4.8],[4.62,4.65],[5.6,5.2],[5.7,5.02],[5.5,4.55],[5.3,4.38],[7.4,6.72],[7.2,6.62],[7.62,6.78],[7.78,6.72],[7.05,6.45],[6.85,6.1],[7.9,6.05],[7.45,5.72],[8.28,6.25],[6.75,5.75],[4.95,5.45],[5.52,5.38]];
const d_t150 = [[7.58,6.97],[7.9,6.85],[7.25,6.72],[7.12,6.55],[6.88,6.42],[6.72,6.3],[6.55,6.05],[6.42,5.82],[6.4,5.62],[6.62,5.55],[7.41,5.43],[7.47,5.37],[7.05,5.45],[7.28,5.55],[7.62,5.62],[8.0,5.82],[8.38,6.05],[8.55,6.52],[8.3,6.72],[8.12,6.78],[7.7,6.72],[7.35,6.58],[6.98,6.38],[6.8,6.0],[6.95,5.75],[7.2,5.72],[7.55,5.82],[7.95,6.02],[8.25,6.2],[8.42,6.38],[4.42,4.62],[4.35,4.85],[4.5,5.15],[4.7,5.45],[5.0,5.6],[5.35,5.65],[5.62,5.45],[5.82,5.18],[5.95,4.85],[5.85,4.55],[5.62,4.38],[5.3,4.22],[4.98,4.24],[4.68,4.28],[5.75,4.7],[5.68,4.95],[5.55,4.62],[5.38,4.42],[4.55,4.92],[4.6,5.2],[7.12,5.98],[7.32,6.12],[7.52,6.02],[7.72,6.18],[7.92,6.3],[8.02,6.58],[7.82,6.6],[7.58,6.6],[7.22,6.42],[6.9,6.12]];
const d_t250 = [[9.03,6.76],[8.92,6.59],[8.92,6.56],[9.07,6.42],[10.08,6.51],[8.85,6.28],[8.96,6.28],[9.0,6.22],[9.08,6.18],[8.85,6.11],[8.99,5.97],[8.91,5.93],[8.87,5.90],[8.84,5.84],[8.75,5.88],[8.68,5.92],[8.79,5.78],[8.74,5.78],[8.65,5.74],[8.74,5.73],[8.74,5.65],[8.55,5.79],[8.74,5.56],[8.56,5.63],[8.44,5.63],[8.42,5.70],[8.61,5.52],[8.27,5.57],[8.18,5.49],[7.92,5.49],[7.87,5.46],[7.81,5.56],[7.73,5.57],[8.04,5.66],[8.10,5.64],[8.69,5.39],[8.48,5.35],[8.56,5.31],[8.22,5.31],[8.99,5.21],[7.43,4.97],[6.87,5.12],[6.55,5.19],[6.71,5.23],[6.91,5.34],[6.97,5.38],[6.83,5.32],[6.18,5.29],[6.09,5.28],[6.12,5.68],[6.04,5.63],[6.33,4.96],[6.15,4.87],[6.02,4.53],[6.07,4.49],[6.14,4.48],[5.98,4.41],[5.90,4.41],[7.0,6.05],[7.15,5.9],[7.3,6.2],[7.35,6.0],[7.48,6.38],[7.55,6.12],[7.62,5.98],[7.7,6.28],[7.78,6.45],[7.85,6.2],[7.95,6.35],[8.05,6.22],[8.15,6.45],[7.25,6.35],[7.1,6.15],[6.92,5.92],[7.42,6.5],[7.68,6.08],[7.9,5.95],[8.3,6.5],[8.48,6.2],[4.7,4.72],[4.78,5.0],[4.85,4.62],[4.92,4.85],[4.98,5.1],[5.05,4.72],[5.1,4.95],[5.18,4.62],[5.22,5.15],[5.28,4.82],[5.32,5.3],[5.38,4.6],[5.42,5.05],[4.82,4.42],[5.0,4.42],[5.15,4.32],[5.3,4.52],[5.5,4.82],[5.48,5.25],[4.65,4.88],[4.62,4.5],[5.72,4.42],[5.82,4.3],[5.92,4.62],[5.95,5.3],[6.02,5.02],[7.04,5.92],[7.18,6.05],[7.22,6.28],[7.38,6.12],[7.44,6.3],[7.52,6.22],[7.58,6.34],[7.62,6.1],[7.72,6.48],[7.8,6.12],[7.88,6.42],[8.02,6.46],[8.1,6.12],[7.02,6.2],[4.82,4.85],[4.88,5.05],[4.94,4.7],[5.0,4.8],[5.06,5.2],[5.12,4.85],[5.16,4.68],[5.22,4.95],[5.35,4.95],[5.45,4.9]];
const d_t350 = [[5.84,6.06],[4.59,4.12],[4.60,4.03],[4.88,4.07],[4.93,4.10],[4.95,4.05],[5.19,4.02],[5.67,4.04],[5.39,4.18],[5.75,4.20],[4.85,4.16],[4.85,3.95],[5.94,4.49],[7.65,6.8],[6.95,6.58],[6.62,6.35],[6.45,6.0],[7.1,6.3],[7.22,6.1],[7.38,6.25],[7.5,6.5],[7.6,6.2],[7.72,6.05],[7.85,6.38],[8.0,6.1],[8.1,6.32],[7.0,5.98],[7.28,5.92],[8.5,6.1],[8.72,6.0],[8.6,6.3],[8.35,5.98],[4.75,4.85],[4.8,5.1],[4.85,4.95],[4.88,4.7],[4.92,5.2],[4.95,4.55],[5.0,4.9],[5.02,5.05],[5.05,4.62],[5.08,5.3],[5.1,4.78],[5.12,5.0],[5.15,4.52],[5.18,4.88],[5.2,5.1],[5.25,4.7],[5.3,5.0],[4.78,4.6],[4.98,4.72],[5.42,4.82],[5.55,4.95],[5.62,4.5],[5.7,5.25],[5.9,4.95],[5.92,5.22],[4.72,4.95],[5.28,4.55],[4.84,4.72],[4.9,4.88],[4.96,4.82],[5.04,4.95],[5.06,4.68],[5.14,4.92],[5.16,4.75],[5.22,4.8],[5.26,4.9],[4.86,5.12],[5.08,5.18],[4.94,5.02],[5.0,4.68],[7.2,5.98],[7.42,6.02],[7.55,6.28],[7.72,6.32],[7.82,6.08],[7.95,6.25],[8.05,6.38],[8.12,6.25]];
const d_t450 = [[7.20,7.32],[8.33,7.27],[8.45,6.96],[8.66,6.93],[7.58,6.93],[6.87,6.81],[8.68,6.81],[6.79,6.49],[8.61,6.49],[8.64,6.38],[8.91,6.42],[9.16,6.40],[9.13,6.34],[10.11,6.62],[6.30,6.18],[9.0,6.26],[8.85,6.15],[9.0,6.11],[8.64,6.11],[8.80,5.99],[8.68,6.09],[8.51,5.88],[8.34,5.69],[8.31,5.89],[8.32,5.84],[6.31,5.93],[6.22,5.91],[6.52,5.71],[5.82,5.80],[4.85,5.97],[4.87,5.93],[5.34,5.94],[4.80,5.79],[4.95,5.79],[5.11,5.80],[5.23,5.78],[5.05,5.74],[4.94,5.69],[4.99,5.66],[5.07,5.70],[4.62,5.47],[4.64,5.30],[6.62,5.48],[6.74,5.52],[6.83,5.26],[7.15,6.2],[7.25,6.05],[7.4,6.15],[7.5,6.3],[7.58,6.42],[7.65,6.18],[7.72,6.38],[7.8,6.52],[7.88,6.28],[7.98,6.42],[8.05,6.28],[8.12,6.18],[8.18,6.35],[7.92,6.55],[7.75,6.22],[7.45,6.08],[7.05,6.08],[8.22,6.5],[8.35,6.25],[8.42,6.48],[6.85,5.95],[4.82,5.22],[4.88,5.35],[4.9,4.98],[4.95,5.12],[4.98,4.62],[5.0,5.25],[5.02,4.82],[5.05,4.95],[5.08,5.15],[5.12,4.68],[5.15,5.05],[5.2,4.85],[4.85,4.78],[4.88,4.55],[4.92,4.75],[5.05,5.42],[4.92,5.42],[5.3,4.72],[4.8,4.9],[5.18,4.95],[4.86,5.0],[4.92,4.9],[4.96,5.18],[5.0,4.98],[5.06,4.84],[5.1,5.06],[5.14,4.78],[7.3,6.1],[7.36,6.3],[7.62,6.3],[7.68,6.42],[7.78,6.28],[7.92,6.15],[8.02,6.32],[8.08,6.45],[8.15,6.3],[8.28,6.38]];

const panels = [
  { plotLeft: 120,  plotTop: 58,   width: 814, height: 758, cbarLeft: 984,  xTitle: 'VAL46:CA - LYS380:CA', yTitle: 'ILE45:CA - LEU381:CA', bg: '#c8ced6', box: a_box, fills: a_fills, contours: a_contours, groups: [a_t50, a_t150, a_t250, a_t350, a_t450] },
  { plotLeft: 1374, plotTop: 58,   width: 815, height: 758, cbarLeft: 2240, xTitle: 'THR43:CA - LYS380:CA', yTitle: 'ALA42:CA - LEU381:CA', bg: '#ced2da', box: b_box, fills: b_fills, contours: b_contours, groups: [b_t50, b_t150, b_t250, b_t350, b_t450] },
  { plotLeft: 119,  plotTop: 1066, width: 815, height: 758, cbarLeft: 984,  xTitle: 'THR48:CA - LYS380:CA', yTitle: 'ILE47:CA - LEU381:CA', bg: '#ced2da', box: c_box, fills: c_fills, contours: c_contours, groups: [c_t50, c_t150, c_t250, c_t350, c_t450] },
  { plotLeft: 1385, plotTop: 1066, width: 815, height: 758, cbarLeft: 2250, xTitle: 'ILE45:CA - LYS380:CA', yTitle: 'VAL44:CA - LEU381:CA', bg: '#ced2da', box: d_box, fills: d_fills, contours: d_contours, groups: [d_t50, d_t150, d_t250, d_t350, d_t450] }
];

const notes = [
  ['tag', 'Aβ46', 274, 135], ['tag', 'Aβ43', 1551, 135], ['tag', 'Aβ48', 285, 1143], ['tag', 'Aβ45', 1551, 1143],
  ['sub', '(a)', 496, 966], ['sub', '(b)', 1843, 972], ['sub', '(c)', 496, 1979], ['sub', '(d)', 1843, 1982]
];

function timeColor(t, alpha) {
  const f = Math.min(Math.max((t - 1) / 499, 0), 1) * (viridis.length - 1);
  const i = Math.min(Math.floor(f), viridis.length - 2);
  const c = viridis[i].map((v, k) => Math.round(v + (viridis[i + 1][k] - v) * (f - i)));
  return `rgba(${c[0]},${c[1]},${c[2]},${alpha})`;
}

const frame = {
  id: 'frame',
  beforeDraw(chart, args, opts) {
    const a = chart.chartArea, c = chart.ctx;
    if (opts.bg) { c.fillStyle = opts.bg; c.fillRect(a.left, a.top, a.width, a.height); }
  },
  afterDraw(chart) {
    const a = chart.chartArea, c = chart.ctx;
    c.strokeStyle = '#333'; c.lineWidth = 2.5;
    c.strokeRect(a.left, a.top, a.width, a.height);
  }
};

function addCanvas(left, top, w, h) {
  const cv = document.createElement('canvas');
  cv.width = w; cv.height = h;
  cv.style.left = left + 'px'; cv.style.top = top + 'px';
  cv.style.width = w + 'px'; cv.style.height = h + 'px';
  document.body.appendChild(cv);
  return cv;
}

const tickFont = { family: '"DejaVu Sans"', size: 26 };
const titleFont = { family: '"DejaVu Sans"', size: 40 };
const tickGrid = { drawOnChartArea: false, drawTicks: true, tickLength: 10, tickWidth: 2, tickColor: '#333' };

panels.forEach(p => {
  // painter's order: contours, then points early to late, then the dashed box
  const layers = [];
  p.contours.forEach(([level, poly]) => {
    layers.push({
      type: 'scatter', showLine: true, fill: 'shape', tension: 0.35, pointRadius: 0, borderWidth: 0,
      backgroundColor: p.fills[level], borderColor: p.fills[level],
      data: poly.map(q => ({ x: q[0], y: q[1] }))
    });
  });
  p.groups.forEach((g, i) => {
    layers.push({
      type: 'scatter', pointRadius: 3.6, pointBorderWidth: 0, showLine: false,
      pointBackgroundColor: timeColor(groupTimes[i], 0.65),
      data: g.map(q => ({ x: q[0], y: q[1] }))
    });
  });
  const b = p.box;
  layers.push({
    type: 'scatter', showLine: true, fill: false, tension: 0, pointRadius: 0, borderColor: '#ff0000',
    borderWidth: 6.5, borderDash: [20, 8], clip: false,
    data: [[b[0], b[2]], [b[1], b[2]], [b[1], b[3]], [b[0], b[3]], [b[0], b[2]]].map(q => ({ x: q[0], y: q[1] }))
  });
  // lower index is drawn last in Chart.js
  layers.reverse();

  new Chart(addCanvas(p.plotLeft - 120, p.plotTop - 20, p.width + 170, p.height + 123), {
    type: 'scatter',
    data: { datasets: layers },
    plugins: [frame],
    options: {
      responsive: false, animation: false, events: [],
      layout: { padding: { top: 20, right: 50, left: 0, bottom: 0 } },
      plugins: { legend: { display: false }, tooltip: { enabled: false }, frame: { bg: p.bg } },
      scales: {
        x: {
          type: 'linear', min: 3.6, max: 12,
          grid: tickGrid, border: { display: false },
          afterFit(s) { s.height = 103; },
          afterBuildTicks(s) { s.ticks = xTicks.map(v => ({ value: v })); },
          ticks: { font: tickFont, color: '#222', padding: 7, maxRotation: 0, autoSkip: false, callback: v => v },
          title: { display: true, text: p.xTitle, font: titleFont, color: '#222', padding: { top: 0, bottom: 2 } }
        },
        y: {
          type: 'linear', min: 3.6, max: 8,
          grid: tickGrid, border: { display: false },
          afterFit(s) { s.width = 120; },
          afterBuildTicks(s) { s.ticks = yTicks.map(v => ({ value: v })); },
          ticks: { font: tickFont, color: '#222', padding: 4, labelOffset: 2, autoSkip: false, callback: v => v },
          title: { display: true, text: p.yTitle, font: titleFont, color: '#222', padding: { top: 25, bottom: 0 } }
        }
      }
    }
  });

  // colour bar
  new Chart(addCanvas(p.cbarLeft - 3, p.plotTop - 20, 130, p.height + 50), {
    type: 'bar',
    data: {
      labels: ['Time'],
      datasets: [{
        data: [[1, 500]], barPercentage: 1, categoryPercentage: 1, borderWidth: 0,
        backgroundColor(ctx) {
          const a = ctx.chart.chartArea;
          if (!a) return 'transparent';
          const grad = ctx.chart.ctx.createLinearGradient(0, a.bottom, 0, a.top);
          viridis.forEach((c, i) => grad.addColorStop(i / (viridis.length - 1), `rgba(${c[0]},${c[1]},${c[2]},0.35)`));
          return grad;
        }
      }]
    },
    plugins: [frame],
    options: {
      responsive: false, animation: false, events: [],
      layout: { padding: { top: 20, left: 3, bottom: 30, right: 0 } },
      plugins: { legend: { display: false }, tooltip: { enabled: false } },
      scales: {
        x: { display: false },
        y: {
          position: 'right', type: 'linear', min: 1, max: 500,
          grid: { drawOnChartArea: false, drawTicks: true, tickLength: 11, tickWidth: 2, tickColor: '#333' },
          border: { display: false },
          afterFit(s) { s.width = 89; s.paddingTop = 0; s.paddingBottom = 0; },
          afterBuildTicks(s) { s.ticks = cbarTicks.map(v => ({ value: v })); },
          ticks: { font: tickFont, color: '#222', padding: 10, labelOffset: 2, autoSkip: false, callback: v => v }
        }
      }
    }
  });

  const t = document.createElement('div');
  t.className = 'note cbtitle';
  t.textContent = 'Time [ns]';
  t.style.left = (p.cbarLeft + 141) + 'px';
  t.style.top = (p.plotTop + 378) + 'px';
  document.body.appendChild(t);
});

notes.forEach(([cls, text, x, y]) => {
  const d = document.createElement('div');
  d.className = 'note ' + cls;
  d.textContent = text;
  d.style.left = x + 'px';
  d.style.top = y + 'px';
  document.body.appendChild(d);
});
</script>
</body>
</html>
